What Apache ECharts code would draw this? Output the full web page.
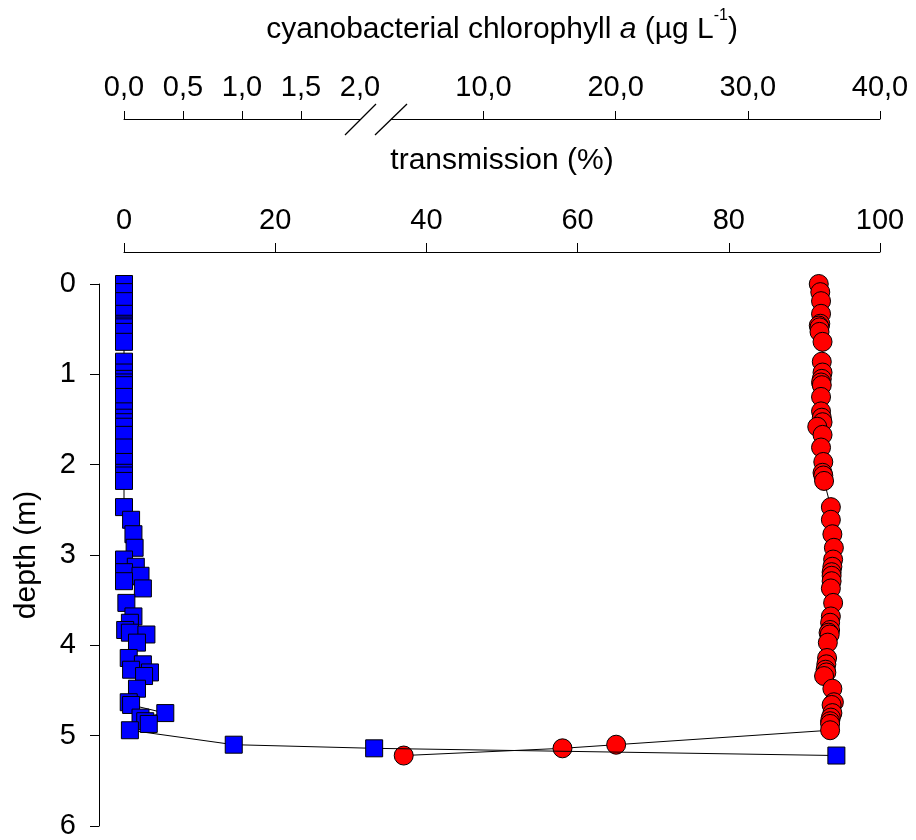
<!DOCTYPE html>
<html><head><meta charset="utf-8">
<script src="https://cdn.jsdelivr.net/npm/echarts@6/dist/echarts.min.js"></script>
<style>html,body{margin:0;padding:0;background:#fff}#c{width:916px;height:840px}</style>
</head><body><div id="c"></div>
<script>
// ---- data (depth profile; both instruments sampled at the same depths) ----
const depth = [
  0.00, 0.09, 0.19, 0.33, 0.44, 0.46, 0.48, 0.53, 0.64,
  0.86, 0.98, 1.05, 1.09, 1.12, 1.25, 1.41, 1.48, 1.53, 1.58, 1.67, 1.81, 1.97, 2.09, 2.12, 2.18,
  2.47, 2.61, 2.77, 2.92, 3.05, 3.13, 3.19, 3.23, 3.29, 3.37, 3.53, 3.68, 3.75, 3.83, 3.86, 3.88,
  3.97, 4.14, 4.21, 4.27, 4.30, 4.34, 4.48, 4.63, 4.66, 4.75, 4.80, 4.84, 4.87, 4.94,
  5.10, 5.14, 5.22
];
const chlorophyll = [
  0.00, 0.00, 0.00, 0.00, 0.00, 0.00, 0.00, 0.00, 0.00,
  0.00, 0.00, 0.00, 0.00, 0.00, 0.00, 0.00, 0.00, 0.00, 0.00, 0.00, 0.00, 0.00, 0.00, 0.00, 0.00,
  0.00, 0.06, 0.08, 0.09, 0.00, 0.10, 0.00, 0.14, 0.00, 0.16, 0.02, 0.08, 0.05, 0.01, 0.05, 0.19,
  0.11, 0.04, 0.16, 0.06, 0.22, 0.17, 0.11, 0.04, 0.06, 0.35, 0.14, 0.18, 0.21, 0.05,
  0.93, 2.12, 36.7
];
const transmission = [
  91.9, 92.1, 92.2, 92.2, 92.1, 91.9, 92.0, 92.0, 92.4,
  92.3, 92.4, 92.3, 92.2, 92.3, 92.2, 92.2, 92.3, 92.4, 91.7, 92.4, 92.2, 92.5, 92.4, 92.5, 92.6,
  93.5, 93.5, 93.7, 93.9, 93.8, 93.7, 93.6, 93.6, 93.6, 93.5, 93.8, 93.5, 93.4, 93.4, 93.2, 93.35,
  93.1, 93.0, 92.9, 92.8, 92.9, 92.6, 93.7, 93.9, 93.6, 93.7, 93.5, 93.4, 93.4, 93.4,
  65.1, 58.0, 37.0
];
const transmissionTicks = [0, 20, 40, 60, 80, 100];
const chlLowTicks = [0, 0.5, 1.0, 1.5, 2.0];
const chlHighTicks = [10, 20, 30, 40];
const depthTicks = [0, 1, 2, 3, 4, 5, 6];

// ---- chart ----
const FONT = '"Liberation Sans", Arial, Helvetica, sans-serif';
const FS = 29;
const FS_NAME = 30;
const BLACK = '#000';
const lineSt = { color: BLACK, width: 1 };
const commaFmt = v => Number(v).toFixed(1).replace('.', ',');

const chart = echarts.init(document.getElementById('c'), null, { renderer: 'canvas' });

const option = {
  animation: false,
  backgroundColor: '#fff',
  textStyle: { fontFamily: FONT, color: BLACK },
  title: {
    text: '{n|cyanobacterial chlorophyll }{i|a}{n| (µg L}{s|-1}{n|)}',
    left: 502, top: 8, textAlign: 'center', padding: 0,
    textStyle: {
      fontWeight: 'normal',
      rich: {
        n: { fontSize: FS_NAME, color: BLACK, fontFamily: FONT, fontWeight: 'normal' },
        i: { fontSize: FS_NAME, color: BLACK, fontFamily: FONT, fontStyle: 'italic', fontWeight: 'normal' },
        s: { fontSize: 16, color: BLACK, fontFamily: FONT, fontWeight: 'normal', padding: [0, 0, 28, 0] }
      }
    }
  },
  grid: [
    { left: 124, right: 36, top: 284, bottom: 14, containLabel: false, outerBoundsMode: 'none' },
    { left: 124, width: 236, top: 119, height: 10, containLabel: false, outerBoundsMode: 'none' },
    { left: 391, right: 36, top: 119, height: 10, containLabel: false, outerBoundsMode: 'none' }
  ],
  xAxis: [
    {
      gridIndex: 0, type: 'value', position: 'top', offset: 32,
      min: transmissionTicks[0], max: transmissionTicks[transmissionTicks.length - 1], interval: 20,
      name: 'transmission (%)', nameLocation: 'middle', nameGap: 76,
      nameTextStyle: { fontSize: FS_NAME, color: BLACK, fontFamily: FONT },
      axisLine: { show: true, onZero: false, lineStyle: lineSt },
      axisTick: { show: true, inside: false, length: 9, lineStyle: lineSt },
      axisLabel: { fontSize: FS, color: BLACK, margin: 17, fontFamily: FONT },
      splitLine: { show: false }
    },
    { gridIndex: 0, type: 'value', min: 0, max: 100, show: false, splitLine: { show: false } },
    {
      gridIndex: 1, type: 'value', position: 'top', min: 0, max: 2,
      axisLine: { show: true, onZero: false, lineStyle: lineSt },
      axisTick: { show: true, inside: false, length: 8, lineStyle: lineSt, customValues: chlLowTicks.slice(0, 4) },
      axisLabel: { fontSize: FS, color: BLACK, margin: 17, fontFamily: FONT, customValues: chlLowTicks, formatter: commaFmt },
      splitLine: { show: false }
    },
    {
      gridIndex: 2, type: 'value', position: 'top', min: 3, max: 40,
      axisLine: { show: true, onZero: false, lineStyle: lineSt },
      axisTick: { show: true, inside: false, length: 8, lineStyle: lineSt, customValues: chlHighTicks },
      axisLabel: { fontSize: FS, color: BLACK, margin: 17, fontFamily: FONT, customValues: chlHighTicks, formatter: commaFmt },
      splitLine: { show: false }
    }
  ],
  yAxis: [
    {
      gridIndex: 0, type: 'value', inverse: true, position: 'left', offset: 25,
      min: depthTicks[0], max: depthTicks[depthTicks.length - 1], interval: 1,
      name: 'depth (m)', nameLocation: 'middle', nameGap: 57,
      nameTextStyle: { fontSize: FS_NAME, color: BLACK, fontFamily: FONT },
      axisLine: { show: true, onZero: false, lineStyle: lineSt },
      axisTick: { show: true, inside: false, length: 9, lineStyle: lineSt },
      axisLabel: { fontSize: FS, color: BLACK, margin: 23, fontFamily: FONT },
      splitLine: { show: false }
    },
    { gridIndex: 1, type: 'value', show: false, splitLine: { show: false } },
    { gridIndex: 2, type: 'value', show: false, splitLine: { show: false } }
  ],
  graphic: [
    { type: 'line', shape: { x1: 345, y1: 135, x2: 376, y2: 104 }, style: { stroke: BLACK, lineWidth: 1.3 } },
    { type: 'line', shape: { x1: 375, y1: 135, x2: 407, y2: 104 }, style: { stroke: BLACK, lineWidth: 1.3 } }
  ],
  series: [
    {
      name: 'transmission', type: 'line', xAxisIndex: 0, yAxisIndex: 0,
      data: depth.map((d, i) => [transmission[i], d]),
      symbol: 'circle', symbolSize: 19,
      itemStyle: { color: '#ff0000', borderColor: BLACK, borderWidth: 1 },
      lineStyle: { color: BLACK, width: 1 },
      emphasis: { disabled: true }, z: 2
    },
    {
      name: 'cyanobacterial chlorophyll a', type: 'line', xAxisIndex: 1, yAxisIndex: 0,
      data: [],
      symbol: 'rect', symbolSize: 17,
      itemStyle: { color: '#0000ff', borderColor: BLACK, borderWidth: 1 },
      lineStyle: { color: BLACK, width: 1 },
      emphasis: { disabled: true }, z: 3
    }
  ]
};
chart.setOption(option);

// Broken chlorophyll scale: map each value through the two top chlorophyll axes
// (the low 0-2 segment and the high 10-40 segment) and onto the hidden plot axis.
function chlToPlotAxis(c) {
  const pLow = chart.convertToPixel({ xAxisIndex: 2 }, c);
  const pHigh = chart.convertToPixel({ xAxisIndex: 3 }, c);
  return chart.convertFromPixel({ xAxisIndex: 1 }, Math.min(pLow, pHigh));
}
chart.setOption({
  series: [{}, { data: depth.map((d, i) => [chlToPlotAxis(chlorophyll[i]), d]) }]
});
</script>
</body></html>
